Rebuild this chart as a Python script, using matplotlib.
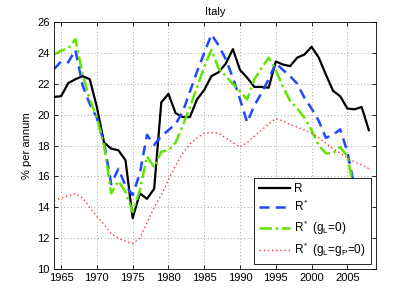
import numpy as np
import matplotlib
matplotlib.use("Agg")
from matplotlib import pyplot as plt

# years and the four series
years = np.arange(1964, 2009)

r_actual = [21.15, 21.2, 22.05, 22.3, 22.5, 22.3, 20.5, 18.2, 17.8, 17.7,
            17.05, 13.3, 14.9, 14.55, 15.2, 20.8, 21.35, 20.1, 19.85, 19.85,
            21.0, 21.6, 22.5, 22.75, 23.3, 24.25, 22.9, 22.4, 21.8, 21.8,
            21.75, 23.45, 23.25, 23.15, 23.7, 23.9, 24.4, 23.7, 22.6, 21.55,
            21.2, 20.4, 20.35, 20.5, 19.0]

r_star = [22.95, 23.45, 23.4, 24.2, 21.9, 20.7, 19.8, 18.2, 15.5, 16.5,
          15.4, 14.8, 16.2, 18.7, 18.05, 18.6, 19.0, 19.4, 20.2, 21.5,
          22.8, 24.0, 25.2, 24.5, 23.6, 22.4, 21.0, 19.5, 20.6, 21.4,
          22.3, 23.35, 22.9, 22.5, 22.0, 21.1, 20.4, 19.6, 18.5, 18.7,
          19.05, 17.6, 15.3, 13.8, 13.0]

r_star_gl0 = [23.9, 24.15, 24.3, 24.9, 22.6, 21.0, 19.8, 18.0, 14.9, 15.7,
              15.0, 13.7, 15.1, 17.3, 16.6, 17.6, 17.7, 18.2, 19.3, 20.5,
              21.8, 23.1, 24.2, 23.0, 22.5, 22.0, 21.5, 21.0, 22.3, 23.0,
              23.7, 22.9, 21.8, 20.9, 20.4, 19.8, 19.0, 18.0, 17.5, 17.5,
              17.9, 17.3, 15.0, 13.6, 12.8]

r_star_glgp0 = [14.45, 14.6, 14.75, 14.9, 14.6, 14.0, 13.4, 12.9, 12.3, 12.0,
                11.8, 11.65, 12.0, 13.0, 14.0, 14.8, 15.8, 16.7, 17.5, 18.1,
                18.5, 18.8, 18.85, 18.8, 18.5, 18.2, 17.9, 18.2, 18.6, 19.0,
                19.4, 19.75, 19.6, 19.35, 19.2, 19.0, 18.8, 18.5, 18.15, 17.8,
                17.5, 17.2, 16.95, 16.75, 16.5]

labels = ["R", "R$^*$", "R$^*$ (g$_L$=0)", "R$^*$ (g$_L$=g$_P$=0)"]
xticks = np.arange(1965, 2006, 5)
yticks = np.arange(10, 27, 2)

plt.rcParams['font.family'] = ['Liberation Sans', 'DejaVu Sans']
plt.rcParams['mathtext.fontset'] = 'custom'
plt.rcParams['mathtext.rm'] = 'Liberation Sans'
plt.rcParams['mathtext.it'] = 'Liberation Sans'
plt.rcParams['font.size'] = 8

fig = plt.figure(figsize=(4.15, 3.03), dpi=100)
ax = fig.add_axes([0.130, 0.112, 0.776, 0.815])

ax.plot(years, r_actual, color='black', lw=1.6, label=labels[0])
ax.plot(years, r_star, color='#2048ff', lw=1.8, dashes=(4, 2.5), label=labels[1])
ax.plot(years, r_star_gl0, color='#5ee600', lw=1.8, dashes=(5, 1.5, 1, 1.5), label=labels[2])
ax.plot(years, r_star_glgp0, color='#ff3030', lw=1.0, dashes=(1, 2), label=labels[3])

ax.set_xlim(1964, 2009)
ax.set_ylim(10, 26)
ax.set_xticks(xticks)
ax.set_yticks(yticks)
ax.tick_params(direction='in', length=3, width=0.6, top=True, right=True, labelsize=8, pad=3)
ax.grid(True, linestyle=(0, (1, 3)), color='#888888', lw=0.6)
for s in ax.spines.values():
    s.set_linewidth(0.6)

ax.set_title("Italy", fontsize=8, pad=5)
ax.set_ylabel("% per annum", fontsize=8, labelpad=4)

leg = ax.legend(loc='lower right', fancybox=False, framealpha=1, edgecolor='black',
                handlelength=2.6, fontsize=8.5, borderaxespad=0.45, labelspacing=0.35,
                handletextpad=0.4, borderpad=0.4)
leg.get_frame().set_linewidth(0.6)

fig.savefig("out.png", dpi=100)
